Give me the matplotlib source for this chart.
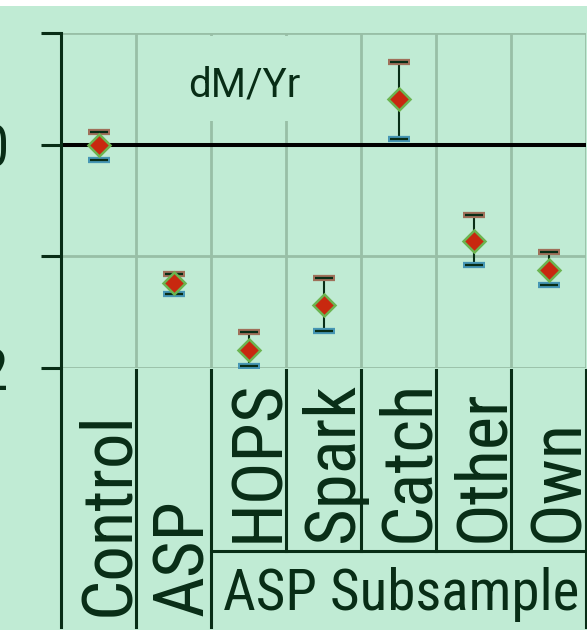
import numpy as np
import matplotlib
matplotlib.use('Agg')
import matplotlib.pyplot as plt
from matplotlib.patches import Rectangle
from matplotlib.lines import Line2D
from matplotlib.transforms import blended_transform_factory

# values
groups = ['Control', 'ASP']
subgroups = ['HOPS', 'Spark', 'Catch', 'Other', 'Own']
estimate = [0.0, -1.235, -1.839, -1.432, 0.405, -0.866, -1.119]
upper = [0.116, -1.155, -1.682, -1.196, 0.738, -0.631, -0.964]
lower = [-0.134, -1.333, -1.980, -1.667, 0.054, -1.080, -1.256]
yticks = [-2, -1, 0, 1]
ytick_labels = ['-2', '-1', '0', '1']
panel_title = 'dM/Yr'
sub_title = 'ASP Subsample'

BG = '#c0ebd4'
GRID = '#98bfa6'
DARK = '#082d16'
RED = '#c8280f'
GREEN = '#6cb450'
BROWN = '#a0705a'
BLUE = '#4696b4'
NARROW = ['Roboto Condensed', 'DejaVu Sans']

W, H = 587, 636
fig = plt.figure(figsize=(W / 100, H / 100), dpi=100, facecolor='white')
fig.add_artist(Rectangle((0, 1 - 630 / H), 1, 624 / H, transform=fig.transFigure,
                         facecolor=BG, edgecolor='none', zorder=-10))

ax = fig.add_axes([61 / W, (H - 368) / H, 525 / W, 335 / H])
ax.set_facecolor('none')
ax.set_xlim(-0.5, 6.5)
ax.set_ylim(-2, 1)
ax.set_axisbelow(True)

ax.set_xticks(np.arange(0.5, 6.6, 1))
ax.set_xticklabels([])
ax.tick_params(axis='x', length=0)
ax.set_yticks(yticks)
ax.set_yticklabels(ytick_labels, family=NARROW, fontsize=41, color=DARK)
ax.tick_params(axis='y', length=14.4, width=2.2, color=DARK, pad=23)
ax.grid(True, color=GRID, linewidth=2)
for s in ['top', 'right', 'bottom']:
    ax.spines[s].set_visible(False)
ax.spines['left'].set_color(DARK)
ax.spines['left'].set_linewidth(2.2)

# box behind the panel title hides part of the grid
ax.add_patch(Rectangle((0.55, 0.214), 2.9, 0.755, facecolor=BG, edgecolor='none', zorder=0.8))
ax.text(1.95, 0.429, panel_title, ha='center', va='baseline', fontsize=29,
        family=['Roboto', 'DejaVu Sans'], color=DARK)

ax.axhline(0, color='black', linewidth=2.9, zorder=1.5)

x = np.arange(len(estimate))
ax.vlines(x, lower, upper, color=DARK, linewidth=1.5, zorder=2)
ax.plot(x, upper, ls='none', marker='_', ms=16, mew=4.5, color=BROWN, zorder=3)
ax.plot(x, upper, ls='none', marker='_', ms=13, mew=1.6, color=DARK, zorder=3.1)
ax.plot(x, lower, ls='none', marker='_', ms=16, mew=4.5, color=BLUE, zorder=3)
ax.plot(x, lower, ls='none', marker='_', ms=13, mew=1.6, color=DARK, zorder=3.1)
ax.plot(x, estimate, ls='none', marker='D', ms=11, mfc=RED, mec=GREEN, mew=1.8, zorder=4)

# category table under the axes
tr = blended_transform_factory(ax.transData, fig.transFigure)
fy = lambda p: 1 - p / H

def vline(xv, y0, y1):
    fig.add_artist(Line2D([xv, xv], [fy(y0), fy(y1)], transform=tr, color=DARK,
                          linewidth=2.2, clip_on=False))

for xv in [-0.5, 0.5, 1.5, 6.5]:
    vline(xv, 370, 627)
for xv in [2.5, 3.5, 4.5, 5.5]:
    vline(xv, 370, 551)
fig.add_artist(Line2D([1.5, 6.6], [fy(551), fy(551)], transform=tr, color=DARK,
                      linewidth=2.2, clip_on=False))

shift = 29.5 / 75
for i, name in enumerate(groups):
    fig.text(i + shift, fy(616), name, transform=tr, rotation=90, rotation_mode='anchor',
             ha='left', va='baseline', fontsize=51, family=NARROW, color=DARK)
for i, name in enumerate(subgroups):
    fig.text(i + 2 + shift, fy(542), name, transform=tr, rotation=90, rotation_mode='anchor',
             ha='left', va='baseline', fontsize=51, family=NARROW, color=DARK)
fig.text(4.04, fy(610), sub_title, transform=tr, ha='center', va='baseline',
         fontsize=41, family=NARROW, color=DARK)

fig.savefig('out.png', dpi=100, facecolor='white')
